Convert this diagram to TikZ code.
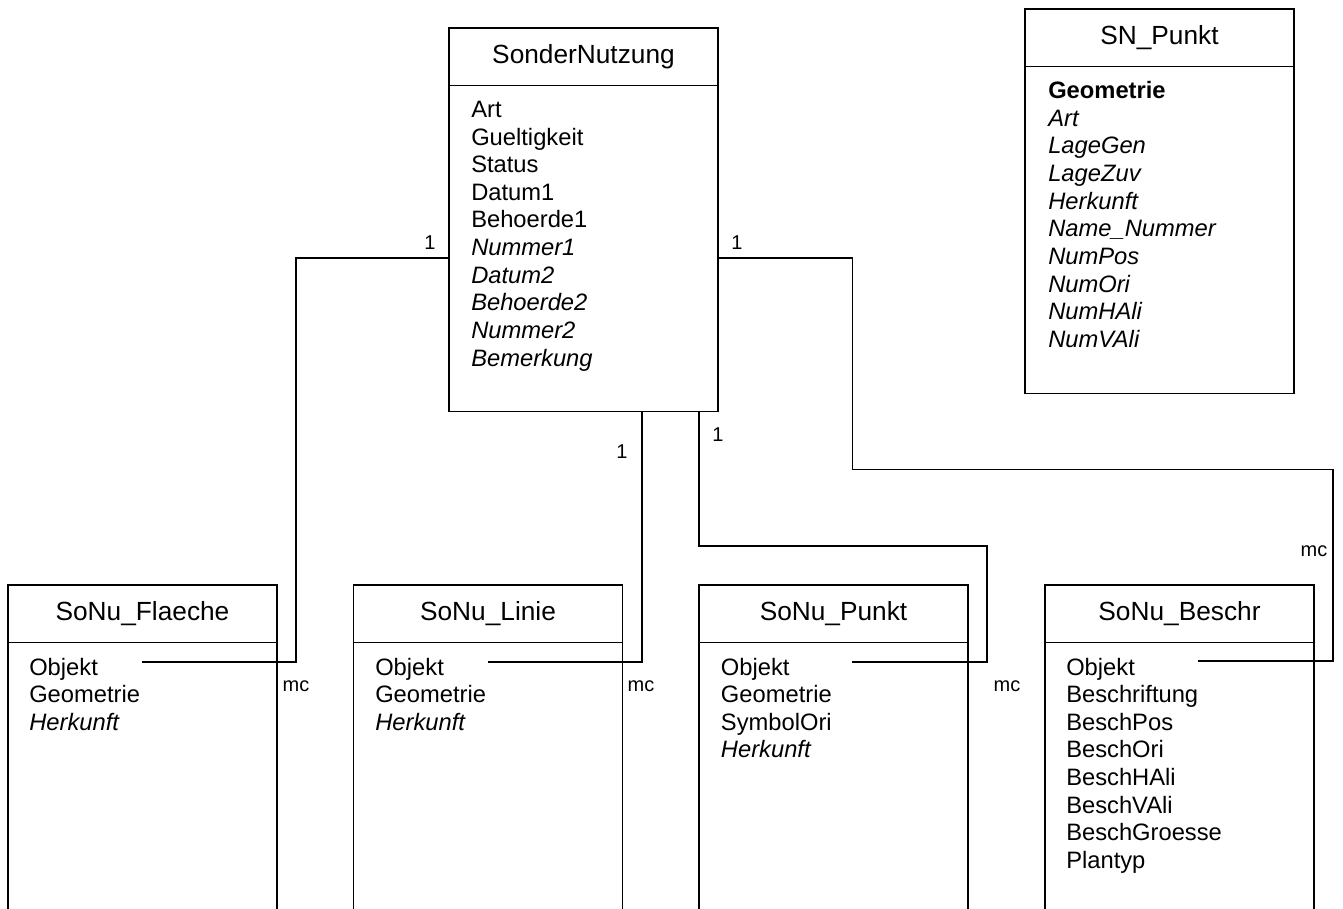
\documentclass[tikz,border=0pt]{standalone}
\usepackage{fontspec}
\setmainfont{Liberation Sans}
\usetikzlibrary{calc}

\begin{document}
\begin{tikzpicture}[x=0.75pt,y=-0.75pt,
  stroke/.style={line width=1.2pt},
  clsname/.style={draw, stroke, anchor=north west, inner sep=0pt, outer sep=0pt,
    minimum width=201.75pt, minimum height=43pt,
    font=\fontsize{19.7}{23}\selectfont},
  clsbody/.style={draw, stroke, anchor=north west, inner sep=0pt, outer sep=0pt,
    minimum width=201.75pt, minimum height=#1},
  attr/.style={anchor=base west, inner sep=0pt,
    font=\fontsize{17.8}{20.7}\selectfont},
  mult/.style={inner sep=0pt, font=\fontsize{15}{18}\selectfont},
  assoc/.style={stroke}]

\useasboundingbox (0,0) rectangle (1343,908);
\clip (0,0) rectangle (1343,908);

% ---- class SonderNutzung ----
\node[clsname] (sn-title) at (449,28) {SonderNutzung};
\node[clsbody=244.7pt] (sn) at (sn-title.south west) {};
\foreach \t [count=\i from 0] in {Art, Gueltigkeit, Status, Datum1, Behoerde1,
    {\itshape Nummer1}, {\itshape Datum2}, {\itshape Behoerde2},
    {\itshape Nummer2}, {\itshape Bemerkung}}
  \node[attr] (sn-a\i) at (471,117.5+27.62*\i) {\t};

% ---- class SN_Punkt ----
\node[clsname] (sp-title) at (1025,9) {SN\_Punkt};
\node[clsbody=245.3pt] (sp) at (sp-title.south west) {};
\foreach \t [count=\i from 0] in {{\bfseries Geometrie}, {\itshape Art},
    {\itshape LageGen}, {\itshape LageZuv}, {\itshape Herkunft},
    {\itshape Name\_Nummer}, {\itshape NumPos}, {\itshape NumOri},
    {\itshape NumHAli}, {\itshape NumVAli}}
  \node[attr] (sp-a\i) at (1048,98.7+27.62*\i) {\t};

% ---- class SoNu_Flaeche ----
\node[clsname] (fl-title) at (8,585) {SoNu\_Flaeche};
\node[clsbody=220pt] (fl) at (fl-title.south west) {};
\foreach \t [count=\i from 0] in {Objekt, Geometrie, {\itshape Herkunft}}
  \node[attr] (fl-a\i) at (29,675+27.62*\i) {\t};

% ---- class SoNu_Linie ----
\node[clsname] (li-title) at (353.5,585) {SoNu\_Linie};
\node[clsbody=220pt] (li) at (li-title.south west) {};
\foreach \t [count=\i from 0] in {Objekt, Geometrie, {\itshape Herkunft}}
  \node[attr] (li-a\i) at (375,675+27.62*\i) {\t};

% ---- class SoNu_Punkt ----
\node[clsname] (pu-title) at (699,585) {SoNu\_Punkt};
\node[clsbody=220pt] (pu) at (pu-title.south west) {};
\foreach \t [count=\i from 0] in {Objekt, Geometrie, SymbolOri, {\itshape Herkunft}}
  \node[attr] (pu-a\i) at (720.7,675+27.62*\i) {\t};

% ---- class SoNu_Beschr ----
\node[clsname] (be-title) at (1045,585) {SoNu\_Beschr};
\node[clsbody=220pt] (be) at (be-title.south west) {};
\foreach \t [count=\i from 0] in {Objekt, Beschriftung, BeschPos, BeschOri,
    BeschHAli, BeschVAli, BeschGroesse, Plantyp}
  \node[attr] (be-a\i) at (1066,675+27.62*\i) {\t};

% ---- association ends at the Objekt attributes ----
\coordinate (fl-end) at (142,662);
\coordinate (li-end) at (488,662);
\coordinate (pu-end) at (852,662);
\coordinate (be-end) at (1198,661);

% ---- associations ----
\draw[assoc] (sn.west |- 0,258) -| (296,662) -- (fl-end);
\draw[assoc] (sn.south -| 641.7,0) -- (641.7,662) -- (li-end);
\draw[assoc] (sn.south -| 699,0) |- (986.7,546) |- (pu-end);
\draw[assoc] (sn.east |- 0,258) -| (852.3,469.5) -| (1332.7,661) -- (be-end);

% ---- multiplicities ----
\node[mult] (m-fl-1) at (430,243) {1};
\node[mult] (m-be-1) at (737,243) {1};
\node[mult] (m-li-1) at (622,452) {1};
\node[mult] (m-pu-1) at (718,435) {1};
\node[mult] (m-fl-n) at (296,686) {mc};
\node[mult] (m-li-n) at (641,686) {mc};
\node[mult] (m-pu-n) at (1007,686) {mc};
\node[mult] (m-be-n) at (1314,551) {mc};

\end{tikzpicture}
\end{document}
